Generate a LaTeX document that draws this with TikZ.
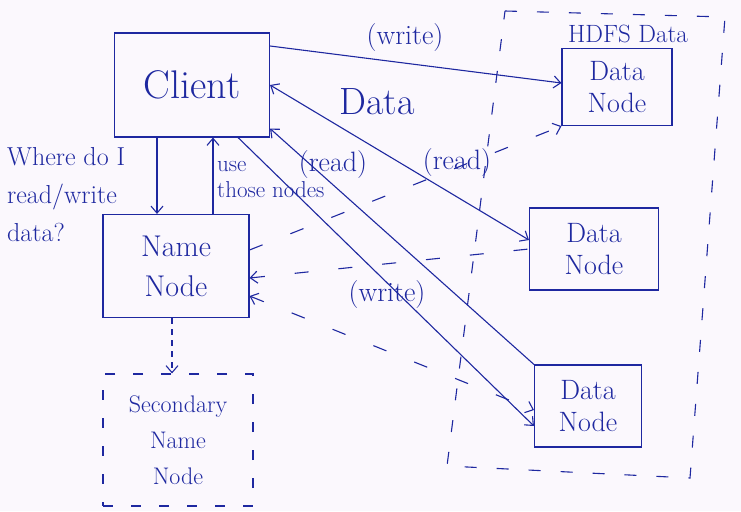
\documentclass[tikz,border=0pt]{standalone}
\usetikzlibrary{arrows.meta}
\definecolor{ink}{RGB}{30,40,160}
\definecolor{paper}{RGB}{251,248,253}
\begin{document}
\begin{tikzpicture}[x=1pt,y=-1pt,
		pen/.style={draw=ink,line width=1.1pt},
		box/.style={pen,rectangle,text=ink,align=center,inner sep=0pt,font=\fontsize{28}{32}\selectfont},
		lbl/.style={text=ink,inner sep=1pt,font=\fontsize{28}{32}\selectfont},
		>={Straight Barb[length=7pt,width=12pt]}]
		\fill[paper] (0,0) rectangle (741,511);
		% boxes
		\node[box,minimum width=155pt,minimum height=104pt,font=\fontsize{40}{44}\selectfont] (client) at (192,85) {Client};
		\node[box,minimum width=146pt,minimum height=103pt,font=\fontsize{30}{40}\selectfont] (name) at (176,266) {Name\\Node};
		\node[box,dash pattern=on 10pt off 18pt,minimum width=150pt,minimum height=132pt,font=\fontsize{24}{36}\selectfont] (second) at (178,440) {Secondary\\Name\\Node};
		\node[box,minimum width=110pt,minimum height=77pt] (dn1) at (617,87) {Data\\Node};
		\node[box,minimum width=129pt,minimum height=82pt] (dn2) at (594,249) {Data\\Node};
		\node[box,minimum width=107pt,minimum height=82pt] (dn3) at (588,406) {Data\\Node};
		%
		\draw[pen,dash pattern=on 12pt off 20pt] (505,11) -- (725,17) -- (690,478) -- (447,466) -- cycle;
		\node[lbl,font=\fontsize{25}{30}\selectfont] (hdfs) at (628,34) {HDFS Data};
		% client and name node
		\draw[pen,->] ([xshift=-35pt]client.south) -- ([xshift=-19pt]name.north);
		\draw[pen,->] ([xshift=37pt]name.north) -- ([xshift=21pt]client.south);
		\draw[pen,->,dash pattern=on 6pt off 5pt] ([xshift=-4pt]name.south) -- ([xshift=-6pt]second.north);
		\node[lbl,align=left,anchor=north west,font=\fontsize{26}{38}\selectfont] (ask) at (6,146) {Where do I\\read/write\\data?};
		\node[lbl,align=left,anchor=north west,font=\fontsize{23}{26}\selectfont] (use) at (216,160) {use\\those nodes};
		% client and data nodes
		\draw[pen,->] ([yshift=39pt]client.east) -- ([yshift=4pt]dn1.west);
		\draw[pen,<->] (client.east) -- ([yshift=9pt]dn2.west);
		\draw[pen,->] (dn3.north west) -- ([yshift=9pt]client.south east);
		\draw[pen,->] ([xshift=-32pt]client.south east) -- ([yshift=-20pt]dn3.west);
		\node[lbl] (w1) at (405,38) {(write)};
		\node[lbl,font=\fontsize{38}{42}\selectfont] (data) at (377,102) {Data};
		\node[lbl] (r1) at (457,163) {(read)};
		\node[lbl] (r2) at (333,165) {(read)};
		\node[lbl] (w2) at (387,295) {(write)};
		% name node and data nodes
		\draw[pen,->,dash pattern=on 14pt off 30pt] ([yshift=16pt]name.east) -- (dn1.south west);
		\draw[pen,<-,dash pattern=on 14pt off 30pt] ([yshift=-12pt]name.east) -- (dn2.west);
		\draw[pen,<->,dash pattern=on 14pt off 30pt] ([yshift=-30pt]name.east) -- ([yshift=-4pt]dn3.west);
	\end{tikzpicture}
\end{document}
